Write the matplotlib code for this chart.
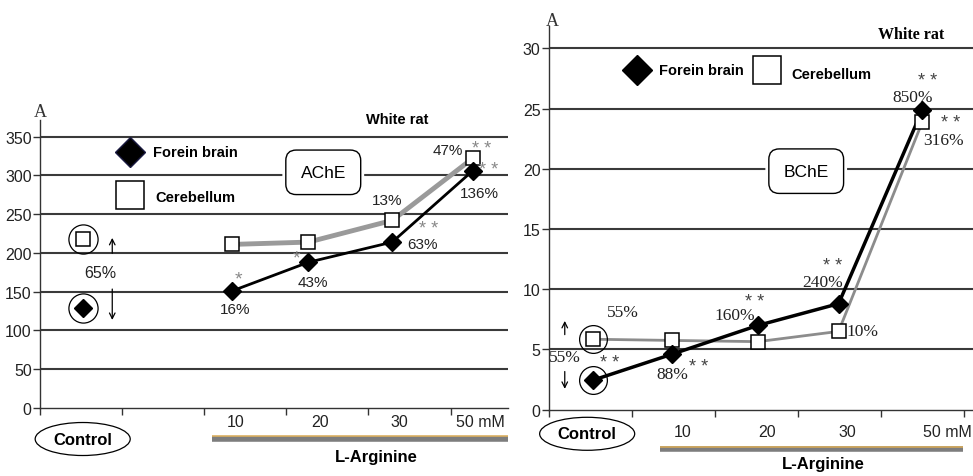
import matplotlib
matplotlib.use("Agg")
import matplotlib.pyplot as plt

# cholinesterase activity in white rat brain, control vs L-arginine doses
doses = ["10", "20", "30", "50 mM"]

ache_fore = [129, 151, 188, 214, 306]      # control first, then doses
ache_cereb = [218, 211, 214, 242, 322]
ache_fore_pct = ["16%", "43%", "63%", "136%"]
ache_cereb_pct = ["13%", "47%"]
ache_ctrl_pct = "65%"
ache_yticks = [0, 50, 100, 150, 200, 250, 300, 350]

bche_fore = [2.45, 4.6, 7.0, 8.8, 24.9]
bche_cereb = [5.85, 5.75, 5.65, 6.5, 23.9]
bche_fore_pct = ["88%", "160%", "240%", "850%"]
bche_cereb_pct = ["10%", "316%"]
bche_ctrl_pct = ["55%", "55%"]
bche_yticks = [0, 5, 10, 15, 20, 25, 30]

plt.rcParams['font.family'] = ['Liberation Sans', 'DejaVu Sans']

W, H = 973, 477
fig = plt.figure(figsize=(W / 100, H / 100), dpi=100)
fig.patch.set_facecolor('white')


def px_axes(x0, y_top, x1, y_bot):
    return fig.add_axes([x0 / W, 1 - y_bot / H, (x1 - x0) / W, (y_bot - y_top) / H])


def base_style(ax, yticks):
    for s in ['top', 'right']:
        ax.spines[s].set_visible(False)
    for s in ['left', 'bottom']:
        ax.spines[s].set_color('#333333')
        ax.spines[s].set_linewidth(1.0)
    ax.set_yticks(yticks)
    ax.set_yticklabels([str(v) for v in yticks], fontsize=11.5, color='#222222')
    ax.set_xticks(range(6))
    ax.set_xticklabels([])
    ax.tick_params(direction='out', length=5, width=1, color='#333333', pad=1)
    for v in yticks[1:]:
        ax.axhline(v, color='#3a3a3a', lw=1.5, zorder=1)


def ann(ax, text, xy, off, color='#222222', size=11, family=None, ha='center'):
    kw = {}
    if family:
        kw['family'] = family
    ax.annotate(text, xy=xy, xytext=off, textcoords='offset pixels',
                ha=ha, va='center', fontsize=size, color=color,
                annotation_clip=False, zorder=6, **kw)


def enzyme_box(ax, x, y, label):
    ax.text(x, y, label, ha='center', va='center', fontsize=12.5, zorder=4,
            bbox=dict(boxstyle='round,pad=1.05', fc='white', ec='white', lw=0))
    ax.text(x, y, label, ha='center', va='center', fontsize=12.5, zorder=5,
            bbox=dict(boxstyle='round,pad=0.85,rounding_size=0.6', fc='white',
                      ec='black', lw=1.0))


def dose_axis(ax, tick_x, tick_y, bar_x0, bar_x1, bar_y, px, lab_x, lab_y, ctrl_x, ctrl_y):
    # px = size of one pixel in y data units
    for x, d in zip(tick_x, doses):
        ax.text(x, tick_y, d, ha='center', va='center', fontsize=11.5,
                color='#222222', clip_on=False)
    ax.plot([bar_x0, bar_x1], [bar_y, bar_y], color='#7d7d7d', lw=4.0,
            solid_capstyle='butt', clip_on=False, zorder=3)
    ax.plot([bar_x0, bar_x1], [bar_y + 2.6 * px] * 2, color='#d9aa55', lw=1.1,
            solid_capstyle='butt', clip_on=False, zorder=3)
    ax.text(lab_x, lab_y, 'L-Arginine', ha='center', va='center', fontsize=12,
            fontweight='bold', clip_on=False)
    ax.text(ctrl_x, ctrl_y, 'Control', ha='center', va='center', fontsize=12,
            fontweight='bold', clip_on=False,
            bbox=dict(boxstyle='ellipse,pad=0.25', fc='white', ec='black', lw=0.9))


# ---------------- AChE ----------------
ax1 = px_axes(40, 120.6, 508, 409)
ax1.set_xlim(0, 5.7)
ax1.set_ylim(0, 372)
base_style(ax1, ache_yticks)

xa = [0.52, 2.34, 3.27, 4.29, 5.27]
ax1.plot(xa[1:], ache_cereb[1:], color='#9a9a9a', lw=3.5, zorder=2)
ax1.plot(xa[1:], ache_fore[1:], color='black', lw=2, zorder=3)
ax1.plot(xa, ache_cereb, ls='none', marker='s', ms=10, mfc='white', mec='black',
         mew=1.1, zorder=4)
ax1.plot(xa, ache_fore, ls='none', marker='D', ms=9, mfc='black', mec='black', zorder=4)
# circled control values
ax1.plot([xa[0]] * 2, [ache_cereb[0], ache_fore[0]], ls='none', marker='o', ms=21,
         mfc='none', mec='black', mew=0.9, zorder=4)

ax1.annotate('', xy=(0.88, 223), xytext=(0.88, 196),
             arrowprops=dict(arrowstyle='->', lw=0.9, color='black'))
ax1.annotate('', xy=(0.88, 110), xytext=(0.88, 157),
             arrowprops=dict(arrowstyle='->', lw=0.9, color='black'))
ax1.text(0.73, 175, ache_ctrl_pct, ha='center', va='center', fontsize=11.5, color='#222222')

pts_f = list(zip(xa[1:], ache_fore[1:]))
pts_c = list(zip(xa[1:], ache_cereb[1:]))
ann(ax1, ache_fore_pct[0], pts_f[0], (3, -18))
ann(ax1, '*', pts_f[0], (6, 12), color='#888888', size=14)
ann(ax1, ache_fore_pct[1], pts_f[1], (4, -20))
ann(ax1, '*', pts_f[1], (-12, 4), color='#888888', size=14)
ann(ax1, ache_fore_pct[2], pts_f[2], (30, -2))
ann(ax1, '* *', pts_f[2], (36, 14), color='#888888', size=13)
ann(ax1, ache_fore_pct[3], pts_f[3], (7, -22))
ann(ax1, '* *', pts_f[3], (16, 1), color='#888888', size=13)
ann(ax1, ache_cereb_pct[0], pts_c[2], (-5, 20))
ann(ax1, ache_cereb_pct[1], pts_c[3], (-25, 8))
ann(ax1, '* *', pts_c[3], (9, 10), color='#888888', size=13)

enzyme_box(ax1, 3.45, 304, 'AChE')

# legend
ax1.plot([1.10], [330], marker='D', ms=15, mfc='black', mec='#1a1a40', clip_on=False)
ax1.text(1.38, 330, 'Forein brain', ha='left', va='center', fontsize=10.5, fontweight='bold')
ax1.plot([1.10], [275], marker='s', ms=20, mfc='white', mec='black', mew=1.1)
ax1.text(1.40, 272, 'Cerebellum', ha='left', va='center', fontsize=10.5, fontweight='bold')

ax1.text(4.35, 373, 'White rat', ha='center', va='center', fontsize=10.5,
         fontweight='bold', clip_on=False)
ax1.text(0.0, 383, 'A', ha='center', va='center', fontsize=13, family='Liberation Serif',
         color='#333333', clip_on=False)

dose_axis(ax1, [2.38, 3.41, 4.38, 5.36], -18, 2.10, 5.70, -39.5, 372 / 288.4,
          4.10, -62, 0.52, -40)

# ---------------- BChE ----------------
ax2 = px_axes(549, 27, 973, 410.7)
ax2.set_xlim(0, 5.11)
ax2.set_ylim(0, 31.85)
base_style(ax2, bche_yticks)

xb = [0.53, 1.48, 2.52, 3.49, 4.5]
ax2.plot(xb, bche_cereb, color='#8c8c8c', lw=2, zorder=2)
ax2.plot(xb, bche_fore, color='black', lw=2.5, zorder=3)
ax2.plot(xb, bche_cereb, ls='none', marker='s', ms=10, mfc='white', mec='black',
         mew=1.1, zorder=4)
ax2.plot(xb, bche_fore, ls='none', marker='D', ms=9, mfc='black', mec='black', zorder=5)
ax2.plot([xb[0]], [bche_cereb[0]], ls='none', marker='o', ms=20, mfc='none',
         mec='black', mew=0.9, zorder=4)
ax2.plot([xb[0]], [bche_fore[0]], ls='none', marker='o', ms=20, mfc='none',
         mec='black', mew=0.9, zorder=4)

ax2.annotate('', xy=(0.19, 7.6), xytext=(0.19, 6.0),
             arrowprops=dict(arrowstyle='->', lw=0.9, color='black'))
ax2.annotate('', xy=(0.19, 1.5), xytext=(0.19, 3.4),
             arrowprops=dict(arrowstyle='->', lw=0.9, color='black'))
ax2.text(0.19, 4.4, bche_ctrl_pct[1], ha='center', va='center', fontsize=12.5,
         family='Liberation Serif', color='#222222')
ax2.text(0.89, 8.1, bche_ctrl_pct[0], ha='center', va='center', fontsize=12.5,
         family='Liberation Serif', color='#222222')

serif = 'Liberation Serif'
pf = list(zip(xb, bche_fore))
pc = list(zip(xb, bche_cereb))
ann(ax2, '* *', pf[0], (17, 18), color='#444444', size=13)
ann(ax2, bche_fore_pct[0], pf[1], (1, -20), size=12.5, family=serif)
ann(ax2, '* *', pf[1], (27, -12), color='#444444', size=13)
ann(ax2, bche_fore_pct[1], pf[2], (-23, 10), size=12.5, family=serif)
ann(ax2, '* *', pf[2], (-3, 24), color='#444444', size=13)
ann(ax2, bche_fore_pct[2], pf[3], (-16, 22), size=12.5, family=serif)
ann(ax2, '* *', pf[3], (-6, 38), color='#444444', size=13)
ann(ax2, bche_fore_pct[3], pf[4], (-10, 13), size=12.5, family=serif)
ann(ax2, '* *', pf[4], (5, 29), color='#444444', size=13)
ann(ax2, bche_cereb_pct[0], pc[3], (8, 0), size=12.5, family=serif, ha='left')
ann(ax2, '* *', pc[4], (28, -1), color='#444444', size=13)
ann(ax2, bche_cereb_pct[1], pc[4], (21, -18), size=12.5, family=serif)

enzyme_box(ax2, 3.10, 19.8, 'BChE')

ax2.plot([1.06], [28.2], marker='D', ms=15, mfc='black', mec='black', clip_on=False)
ax2.text(1.33, 28.2, 'Forein brain', ha='left', va='center', fontsize=10.5, fontweight='bold')
ax2.plot([2.63], [28.2], marker='s', ms=20, mfc='white', mec='black', mew=1.1)
ax2.text(2.92, 27.9, 'Cerebellum', ha='left', va='center', fontsize=10.5, fontweight='bold')

ax2.text(4.37, 31.2, 'White rat', ha='center', va='center', fontsize=11.5,
         fontweight='bold', family='Liberation Serif', clip_on=False)
ax2.text(0.04, 32.3, 'A', ha='center', va='center', fontsize=13, family='Liberation Serif',
         color='#333333', clip_on=False)

dose_axis(ax2, [1.61, 2.63, 3.60, 4.80], -1.85, 1.34, 4.99, -3.3, 31.85 / 383.7,
          3.30, -4.5, 0.46, -2.0)

fig.savefig('out.png', dpi=100, facecolor='white')
